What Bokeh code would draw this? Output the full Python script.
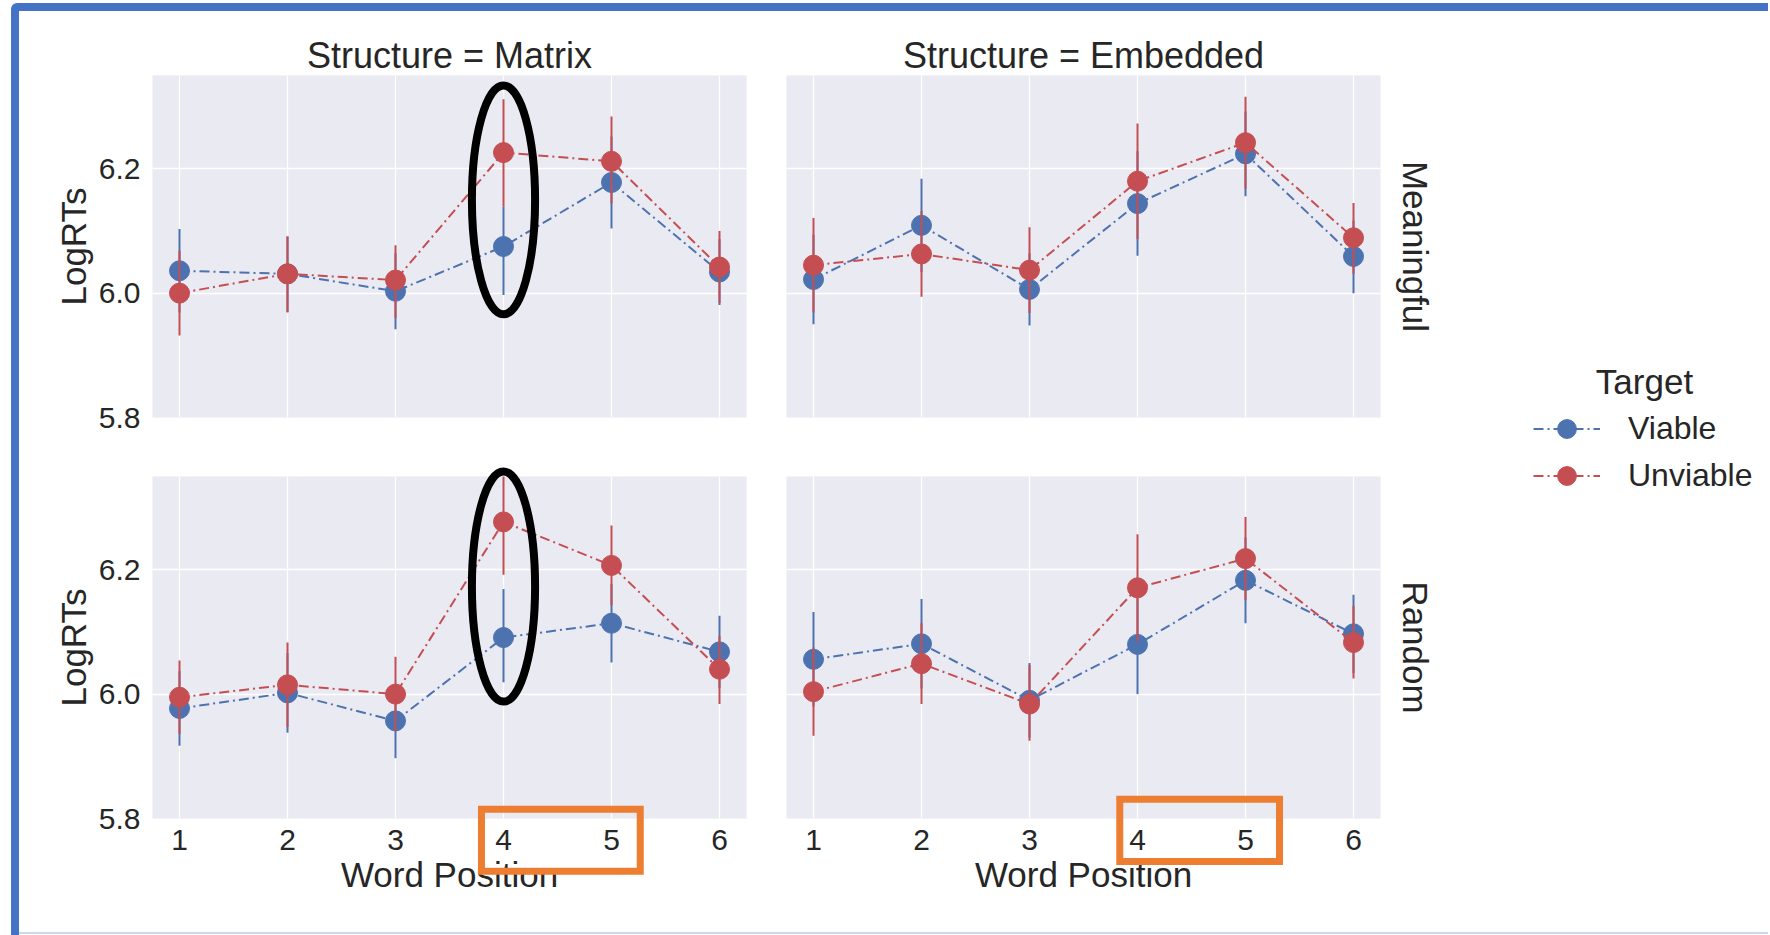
from bokeh.plotting import figure
from bokeh.models import (ColumnDataSource, FixedTicker, Range1d, Title, Legend, LegendItem,
                          Label, Div, PrintfTickFormatter)
from bokeh.layouts import row, column
from bokeh.embed import file_html
from bokeh.resources import INLINE

# ---------------- data ----------------
positions = [1, 2, 3, 4, 5, 6]
x_tick_labels = ["1", "2", "3", "4", "5", "6"]
y_ticks = [5.8, 6.0, 6.2]
structures = ["Matrix", "Embedded"]
conditions = ["Meaningful", "Random"]
targets = ["Viable", "Unviable"]

matrix_meaningful_viable_mean = [6.036, 6.031, 6.003, 6.075, 6.178, 6.034]
matrix_meaningful_viable_lo = [5.969, 5.970, 5.942, 5.997, 6.104, 5.981]
matrix_meaningful_viable_hi = [6.103, 6.091, 6.064, 6.139, 6.252, 6.087]
matrix_meaningful_unviable_mean = [6.000, 6.031, 6.021, 6.226, 6.212, 6.042]
matrix_meaningful_unviable_lo = [5.932, 5.969, 5.960, 6.139, 6.144, 5.984]
matrix_meaningful_unviable_hi = [6.068, 6.091, 6.077, 6.312, 6.284, 6.100]

embedded_meaningful_viable_mean = [6.022, 6.109, 6.006, 6.144, 6.224, 6.059]
embedded_meaningful_viable_lo = [5.950, 6.034, 5.948, 6.060, 6.156, 6.000]
embedded_meaningful_viable_hi = [6.094, 6.184, 6.064, 6.228, 6.292, 6.117]
embedded_meaningful_unviable_mean = [6.045, 6.063, 6.037, 6.180, 6.242, 6.089]
embedded_meaningful_unviable_lo = [5.969, 5.994, 5.968, 6.087, 6.168, 6.031]
embedded_meaningful_unviable_hi = [6.121, 6.132, 6.106, 6.273, 6.316, 6.145]

matrix_random_viable_mean = [5.977, 6.002, 5.957, 6.091, 6.114, 6.068]
matrix_random_viable_lo = [5.917, 5.938, 5.897, 6.019, 6.051, 6.010]
matrix_random_viable_hi = [6.037, 6.066, 6.017, 6.169, 6.177, 6.126]
matrix_random_unviable_mean = [5.995, 6.015, 6.000, 6.277, 6.207, 6.040]
matrix_random_unviable_lo = [5.936, 5.947, 5.940, 6.192, 6.143, 5.984]
matrix_random_unviable_hi = [6.054, 6.083, 6.060, 6.362, 6.271, 6.093]

embedded_random_viable_mean = [6.056, 6.081, 5.990, 6.080, 6.183, 6.097]
embedded_random_viable_lo = [5.980, 6.009, 5.930, 6.000, 6.114, 6.034]
embedded_random_viable_hi = [6.132, 6.153, 6.050, 6.160, 6.252, 6.160]
embedded_random_unviable_mean = [6.004, 6.049, 5.984, 6.171, 6.218, 6.083]
embedded_random_unviable_lo = [5.933, 5.984, 5.925, 6.085, 6.151, 6.025]
embedded_random_unviable_hi = [6.075, 6.114, 6.047, 6.257, 6.285, 6.142]

# highlight annotations (ellipses around word 4)
ellipse_panels = [("Matrix", "Meaningful"), ("Matrix", "Random")]
ellipse_x = [4, 4]
ellipse_y = [6.150, 6.173]
ellipse_w = [0.585, 0.585]
ellipse_h = [0.368, 0.370]

# orange boxes around tick labels 4-5 (axis units, reaching below the frame)
box_panels = [("Matrix", "Random"), ("Embedded", "Random")]
box_left = [3.796, 3.836]
box_right = [5.266, 5.315]
box_bottom = [5.715, 5.731]
box_top = [5.815, 5.831]

# ---------------- styling ----------------
FONT = "Liberation Sans"
TEXT = "#262626"
COLORS = {"Viable": "#4C72B0", "Unviable": "#C44E52"}
DASH = "10 4 2 4"

series = {
    ("Matrix", "Meaningful", "Viable"): (matrix_meaningful_viable_mean, matrix_meaningful_viable_lo, matrix_meaningful_viable_hi),
    ("Matrix", "Meaningful", "Unviable"): (matrix_meaningful_unviable_mean, matrix_meaningful_unviable_lo, matrix_meaningful_unviable_hi),
    ("Embedded", "Meaningful", "Viable"): (embedded_meaningful_viable_mean, embedded_meaningful_viable_lo, embedded_meaningful_viable_hi),
    ("Embedded", "Meaningful", "Unviable"): (embedded_meaningful_unviable_mean, embedded_meaningful_unviable_lo, embedded_meaningful_unviable_hi),
    ("Matrix", "Random", "Viable"): (matrix_random_viable_mean, matrix_random_viable_lo, matrix_random_viable_hi),
    ("Matrix", "Random", "Unviable"): (matrix_random_unviable_mean, matrix_random_unviable_lo, matrix_random_unviable_hi),
    ("Embedded", "Random", "Viable"): (embedded_random_viable_mean, embedded_random_viable_lo, embedded_random_viable_hi),
    ("Embedded", "Random", "Unviable"): (embedded_random_unviable_mean, embedded_random_unviable_lo, embedded_random_unviable_hi),
}


def make_panel(structure, condition):
    is_left = structure == "Matrix"
    is_top = condition == "Meaningful"
    p = figure(frame_width=594, frame_height=342,
               min_border_left=133 if is_left else 20,
               min_border_right=20 if is_left else 80,
               min_border_top=64 if is_top else 30,
               min_border_bottom=29 if is_top else 101,
               x_range=Range1d(0.75, 6.25), y_range=Range1d(5.8, 6.35),
               output_backend="svg", toolbar_location=None, tools="",
               background_fill_color="#EAEAF2", border_fill_color="white",
               outline_line_color=None)

    p.xgrid.ticker = FixedTicker(ticks=positions)
    p.ygrid.ticker = FixedTicker(ticks=y_ticks)
    p.xgrid.grid_line_color = "white"
    p.ygrid.grid_line_color = "white"
    p.xgrid.grid_line_width = 1.2
    p.ygrid.grid_line_width = 1.6

    for ax in (p.xaxis[0], p.yaxis[0]):
        ax.axis_line_color = None
        ax.major_tick_line_color = None
        ax.minor_tick_line_color = None
        ax.major_tick_out = 0
        ax.major_tick_in = 0
        ax.major_label_text_font = FONT
        ax.major_label_text_font_size = "30px"
        ax.major_label_text_color = TEXT
        ax.axis_label_text_font = FONT
        ax.axis_label_text_font_size = "35px"
        ax.axis_label_text_font_style = "normal"
        ax.axis_label_text_color = TEXT
    p.xaxis.ticker = FixedTicker(ticks=positions)
    p.xaxis.major_label_overrides = {pos: lab for pos, lab in zip(positions, x_tick_labels)}
    p.xaxis.major_label_standoff = 11
    p.xaxis.axis_label_standoff = 2
    p.yaxis.ticker = FixedTicker(ticks=y_ticks)
    p.yaxis.formatter = PrintfTickFormatter(format="%.1f")
    p.yaxis.major_label_standoff = 12
    p.yaxis.axis_label_standoff = 3

    if is_left:
        p.yaxis.axis_label = "LogRTs"
    else:
        p.yaxis.visible = False
    if is_top:
        p.xaxis.visible = False
    else:
        p.xaxis.axis_label = "Word Position"

    if is_top:
        p.title.text = f"Structure = {structure}"
        p.title.align = "center"
        p.title.text_font = FONT
        p.title.text_font_size = "36px"
        p.title.text_font_style = "normal"
        p.title.text_color = TEXT
        p.title.standoff = 0
    else:
        p.title.visible = False

    if not is_left:
        p.add_layout(Title(text=condition, align="center", text_font=FONT,
                           text_font_size="35px", text_font_style="normal",
                           text_color=TEXT, standoff=30), "right")

    for target in targets:
        mean, lo, hi = series[(structure, condition, target)]
        src = ColumnDataSource(dict(x=positions, y=mean, lo=lo, hi=hi))
        c = COLORS[target]
        p.segment(x0="x", y0="lo", x1="x", y1="hi", source=src, line_color=c, line_width=2)
        p.line(x="x", y="y", source=src, line_color=c, line_width=2, line_dash=DASH)
        p.scatter(x="x", y="y", source=src, size=20, fill_color=c, line_color=c, line_width=1)

    for (s, cnd), ex, ey, ew, eh in zip(ellipse_panels, ellipse_x, ellipse_y, ellipse_w, ellipse_h):
        if s == structure and cnd == condition:
            esrc = ColumnDataSource(dict(x=[ex], y=[ey], w=[ew], h=[eh]))
            p.ellipse(x="x", y="y", width="w", height="h", source=esrc,
                      fill_color=None, line_color="black", line_width=8, level="overlay")

    for (s, cnd), bl, br, bb, bt in zip(box_panels, box_left, box_right, box_bottom, box_top):
        if s == structure and cnd == condition:
            bsrc = ColumnDataSource(dict(l=[bl], r=[br], b=[bb], t=[bt]))
            p.quad(left="l", right="r", bottom="b", top="t", source=bsrc,
                   fill_color=None, line_color="#ED7D31", line_width=7,
                   line_join="miter", level="overlay")
    return p


panels = {(s, c): make_panel(s, c) for s in structures for c in conditions}

# legend figure (its renderers sit outside its visible ranges; only the legend shows)
leg = figure(width=308, height=908, min_border=0, min_border_left=0, min_border_right=0,
             min_border_top=0, min_border_bottom=0,
             x_range=Range1d(-2, -1), y_range=Range1d(-2, -1),
             x_axis_type=None, y_axis_type=None, output_backend="svg",
             toolbar_location=None, tools="", outline_line_color=None,
             background_fill_color="white", border_fill_color="white")
leg.xgrid.visible = False
leg.ygrid.visible = False
items = []
for target in targets:
    mean, lo, hi = series[("Matrix", "Meaningful", target)]
    lsrc = ColumnDataSource(dict(x=positions, y=mean))
    c = COLORS[target]
    lr = leg.line(x="x", y="y", source=lsrc, line_color=c, line_width=2, line_dash=DASH)
    sr = leg.scatter(x="x", y="y", source=lsrc, size=20, fill_color=c, line_color=c)
    items.append(LegendItem(label=target, renderers=[lr, sr]))
legend = Legend(items=items, location=(73, 420), padding=0, margin=0, spacing=0,
                glyph_width=67, glyph_height=47, label_height=47, label_standoff=28,
                label_text_font=FONT, label_text_font_size="32px", label_text_color=TEXT,
                border_line_color=None, background_fill_alpha=0)
leg.add_layout(legend, "center")
leg.add_layout(Label(x=184, y=538, x_units="screen", y_units="screen", text="Target",
                     text_align="center", text_baseline="alphabetic", text_font=FONT,
                     text_font_size="35px", text_color=TEXT))

content = row(column(panels[("Matrix", "Meaningful")], panels[("Matrix", "Random")]),
              column(panels[("Embedded", "Meaningful")], panels[("Embedded", "Random")]),
              leg)

top_bar = Div(text="", width=1757, height=8, margin=0,
              styles={"background-color": "#4472C4", "border-top-left-radius": "6px"})
left_bar = Div(text="", width=8, height=924, margin=0,
               styles={"background-color": "#4472C4"})
spacer = Div(text="", width=1749, height=13, margin=0)
bottom_line = Div(text="", width=1749, height=2, margin=0,
                  styles={"background-color": "#CCD8EE"})
root = column(top_bar, row(left_bar, column(content, spacer, bottom_line)),
              styles={"margin-top": "3px", "margin-left": "11px", "margin-bottom": "-12px"})

open("out.html", "w").write(file_html(root, INLINE))
